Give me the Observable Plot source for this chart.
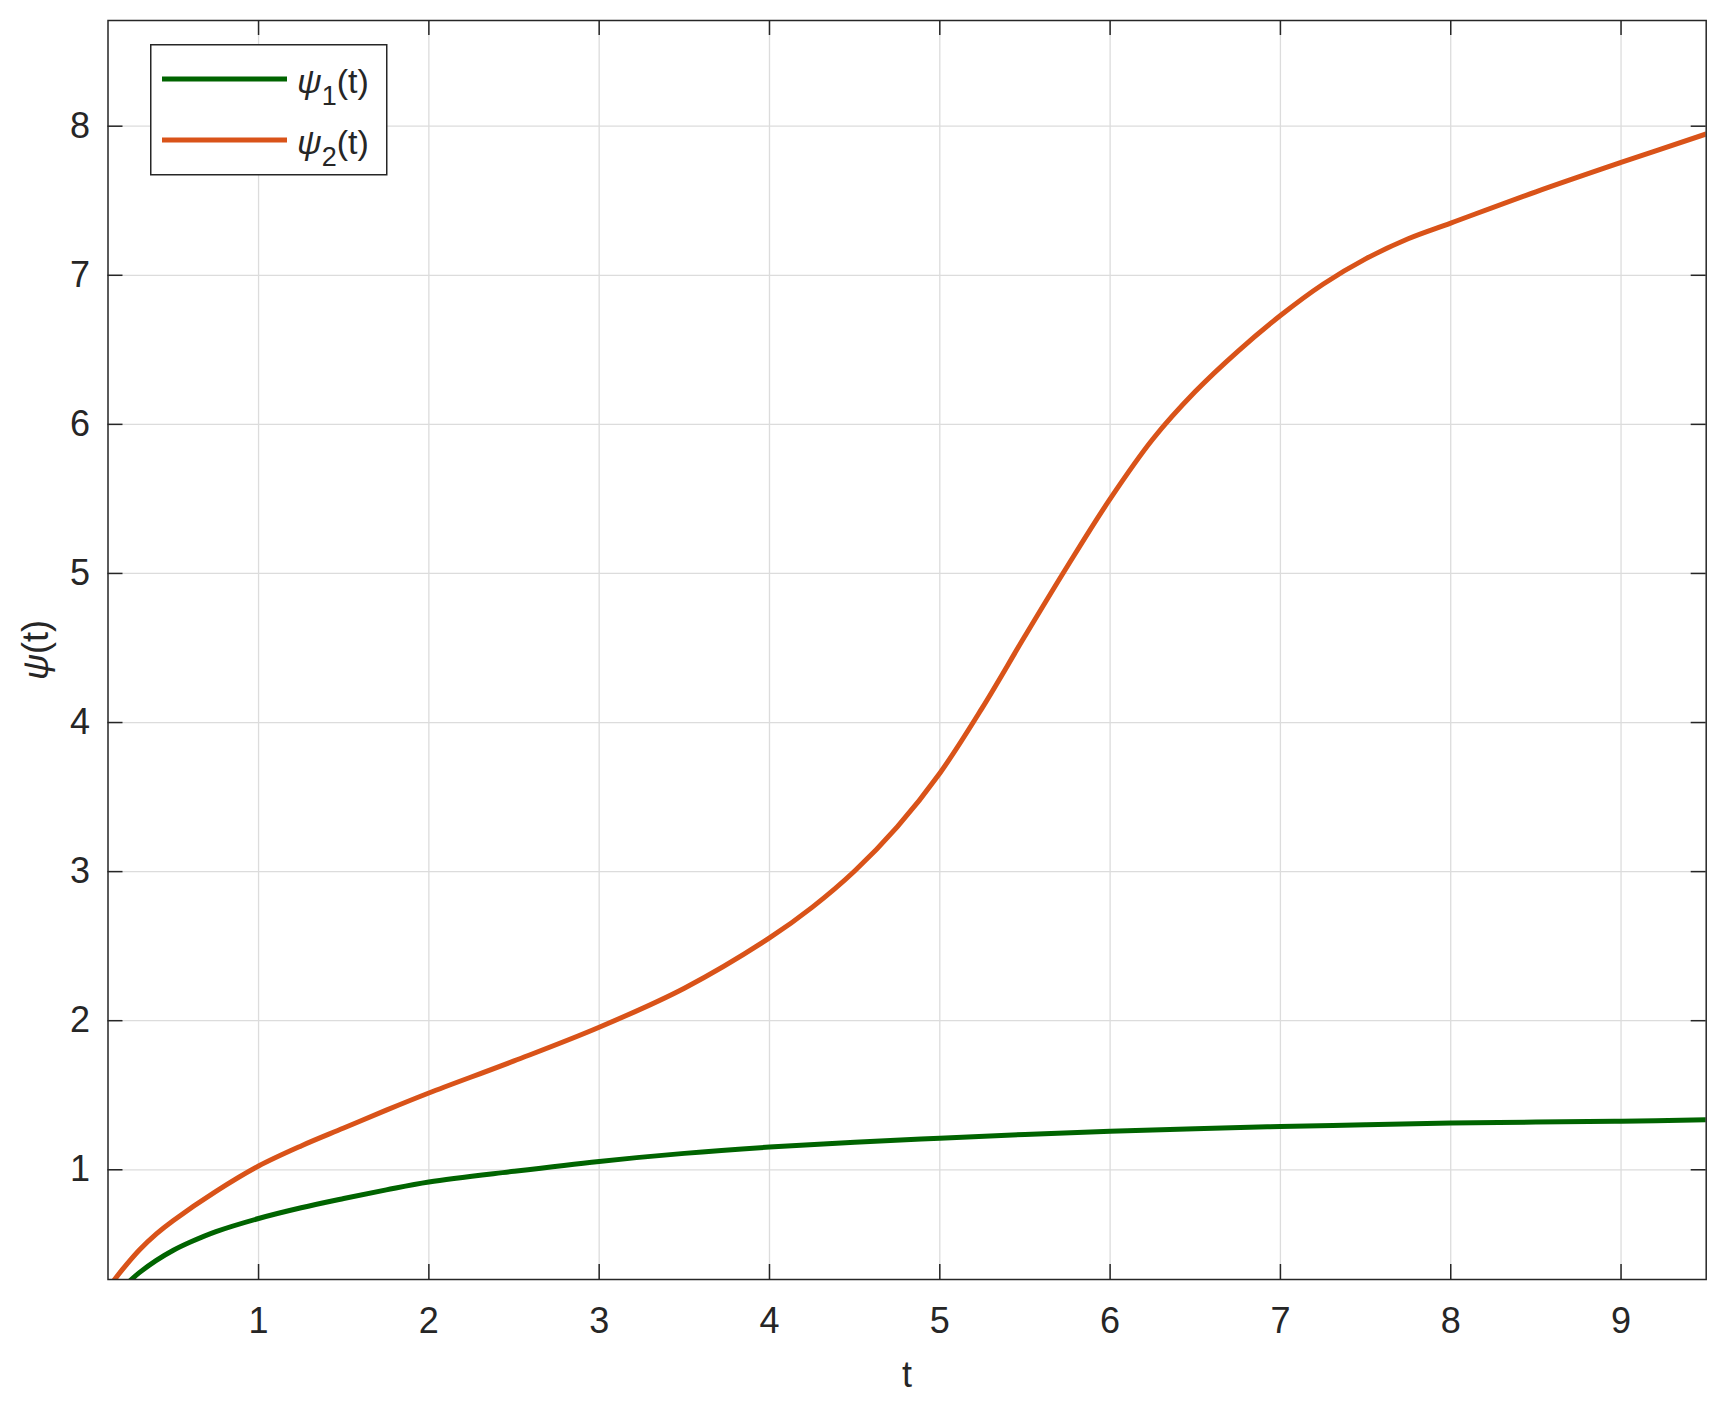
<!DOCTYPE html>
<html>
<head>
<meta charset="utf-8">
<script src="https://cdn.jsdelivr.net/npm/d3@7"></script>
<script src="https://cdn.jsdelivr.net/npm/@observablehq/plot@0.6"></script>
<style>
  html, body { margin: 0; padding: 0; background: #fff; }
  #wrap { position: relative; width: 1720px; height: 1401px; }
  #legend { position: absolute; left: 150px; top: 44px; }
</style>
</head>
<body>
<div id="wrap"></div>
<script>
// ---- data ----
const seriesNames = ["ψ1(t)", "ψ2(t)"];
const seriesColors = ["#006400", "#D95319"];

const tPsi1 = [0.116, 0.15, 0.2, 0.25, 0.3, 0.4, 0.5, 0.6, 0.75, 1, 1.25, 1.5, 1.75, 2, 2.5, 3, 3.5, 4, 4.5, 5, 5.5, 6, 6.5, 7, 7.5, 8, 8.5, 9, 9.5];
const psi1  = [0.10, 0.15, 0.20, 0.26, 0.31, 0.392, 0.46, 0.515, 0.585, 0.673, 0.745, 0.807, 0.865, 0.918, 0.99, 1.056, 1.11, 1.152, 1.185, 1.212, 1.237, 1.259, 1.276, 1.29, 1.302, 1.313, 1.32, 1.326, 1.335];

const tPsi2 = [0.116, 0.155, 0.2, 0.3, 0.4, 0.5, 0.75, 1, 1.25, 1.5, 1.75, 2, 2.5, 3, 3.5, 4, 4.25, 4.5, 4.75, 5, 5.25, 5.5, 5.75, 6, 6.25, 6.5, 6.75, 7, 7.25, 7.5, 7.75, 8, 8.5, 9, 9.5];
const psi2  = [0.20, 0.264, 0.33, 0.462, 0.57, 0.66, 0.855, 1.025, 1.16, 1.28, 1.40, 1.515, 1.73, 1.956, 2.218, 2.555, 2.76, 3.004, 3.30, 3.66, 4.10, 4.58, 5.05, 5.50, 5.90, 6.22, 6.49, 6.73, 6.94, 7.11, 7.245, 7.35, 7.56, 7.757, 7.948];

const xTicks = [1, 2, 3, 4, 5, 6, 7, 8, 9];
const yTicks = [1, 2, 3, 4, 5, 6, 7, 8];
const xDomain = [0.116, 9.5];
const yDomain = [0.264, 8.709];

// ---- layout ----
const W = 1720, H = 1401;
const mL = 107.5, mR = 14.3, mT = 20, mB = 122;
const plotW = W - mL - mR, plotH = H - mT - mB;
const tickLen = 15;
const ink = "#262626";
const gridColor = "#dcdcdc";
const font = "'Liberation Sans', Arial, Helvetica, sans-serif";

const rows1 = tPsi1.map((t, i) => ({t, v: psi1[i]}));
const rows2 = tPsi2.map((t, i) => ({t, v: psi2[i]}));

const chart = Plot.plot({
  width: W, height: H,
  marginLeft: mL, marginRight: mR, marginTop: mT, marginBottom: mB,
  x: {domain: xDomain},
  y: {domain: yDomain},
  style: {fontFamily: font, fontSize: "36px", color: ink, background: "#fff"},
  marks: [
    Plot.gridX(xTicks, {stroke: gridColor, strokeOpacity: 1, strokeWidth: 1.3}),
    Plot.gridY(yTicks, {stroke: gridColor, strokeOpacity: 1, strokeWidth: 1.3}),
    Plot.line(rows1, {x: "t", y: "v", stroke: seriesColors[0], strokeWidth: 5, curve: "catmull-rom", clip: true}),
    Plot.line(rows2, {x: "t", y: "v", stroke: seriesColors[1], strokeWidth: 5, curve: "catmull-rom", clip: true}),
    // inward ticks on all four sides
    Plot.tickX(xTicks, {x: d => d, insetTop: plotH - tickLen, stroke: ink, strokeWidth: 1.5}),
    Plot.tickX(xTicks, {x: d => d, insetBottom: plotH - tickLen, stroke: ink, strokeWidth: 1.5}),
    Plot.tickY(yTicks, {y: d => d, insetRight: plotW - tickLen, stroke: ink, strokeWidth: 1.5}),
    Plot.tickY(yTicks, {y: d => d, insetLeft: plotW - tickLen, stroke: ink, strokeWidth: 1.5}),
    Plot.frame({stroke: ink, strokeWidth: 1.5}),
    Plot.axisX(xTicks, {tickSize: 0, tickPadding: 28, fontSize: 36, fill: ink, tickFormat: d => String(d),
      label: "t", labelAnchor: "center", labelOffset: 107, labelArrow: "none"}),
    Plot.axisY(yTicks, {tickSize: 0, tickPadding: 18, fontSize: 36, fill: ink, tickFormat: d => String(d),
      label: "ψ(t)", labelAnchor: "center", labelOffset: 86, labelArrow: "none"})
  ]
});

document.getElementById("wrap").appendChild(chart);

// italic psi in the y-axis label
chart.querySelectorAll("text").forEach(el => {
  if (el.textContent === "ψ(t)") {
    el.textContent = "";
    const ns = "http://www.w3.org/2000/svg";
    const a = document.createElementNS(ns, "tspan");
    a.setAttribute("font-style", "italic");
    a.textContent = "ψ";
    const b = document.createElementNS(ns, "tspan");
    b.textContent = "(t)";
    el.appendChild(a); el.appendChild(b);
  }
});

// ---- legend ----
const ns = "http://www.w3.org/2000/svg";
const lg = document.createElementNS(ns, "svg");
lg.setAttribute("id", "legend");
lg.setAttribute("width", 238);
lg.setAttribute("height", 132);
lg.style.fontFamily = font;
const box = document.createElementNS(ns, "rect");
box.setAttribute("x", 0.75); box.setAttribute("y", 0.75);
box.setAttribute("width", 236); box.setAttribute("height", 130);
box.setAttribute("fill", "#fff"); box.setAttribute("stroke", ink); box.setAttribute("stroke-width", 1.5);
lg.appendChild(box);
const rowY = [35, 96];
seriesNames.forEach((name, i) => {
  const ln = document.createElementNS(ns, "line");
  ln.setAttribute("x1", 12); ln.setAttribute("x2", 137);
  ln.setAttribute("y1", rowY[i]); ln.setAttribute("y2", rowY[i]);
  ln.setAttribute("stroke", seriesColors[i]); ln.setAttribute("stroke-width", 5);
  lg.appendChild(ln);
  const tx = document.createElementNS(ns, "text");
  tx.setAttribute("x", 147); tx.setAttribute("y", rowY[i] + 14);
  tx.setAttribute("font-size", 34); tx.setAttribute("fill", ink);
  const p = document.createElementNS(ns, "tspan");
  p.setAttribute("font-style", "italic"); p.textContent = name.charAt(0);
  const s = document.createElementNS(ns, "tspan");
  s.setAttribute("font-size", 27); s.setAttribute("dy", 12); s.textContent = name.charAt(1);
  const r = document.createElementNS(ns, "tspan");
  r.setAttribute("dy", -12); r.textContent = name.slice(2);
  tx.appendChild(p); tx.appendChild(s); tx.appendChild(r);
  lg.appendChild(tx);
});
document.getElementById("wrap").appendChild(lg);
</script>
</body>
</html>
